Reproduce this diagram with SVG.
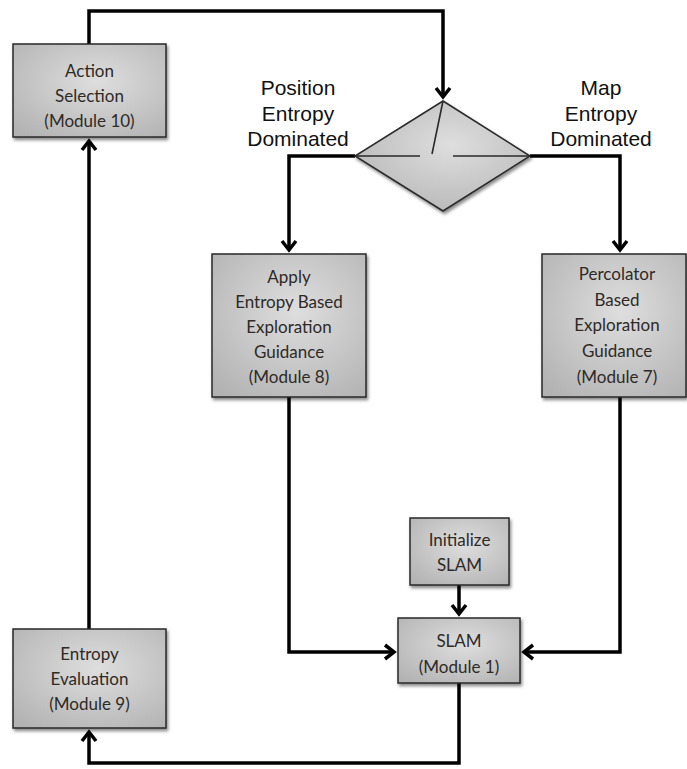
<svg xmlns="http://www.w3.org/2000/svg" width="687" height="769" viewBox="0 0 687 769">
<defs>
<radialGradient id="g" cx="55%" cy="40%" r="75%">
<stop offset="0" stop-color="#dedede"/>
<stop offset="1" stop-color="#b2b2b2"/>
</radialGradient>
<filter id="sh" x="-10%" y="-10%" width="130%" height="130%">
<feDropShadow dx="1.5" dy="2.5" stdDeviation="1.8" flood-color="#000" flood-opacity="0.45"/>
</filter>
<marker id="ar" markerUnits="userSpaceOnUse" markerWidth="24" markerHeight="24" viewBox="-14 -12 24 24" refX="0" refY="0" orient="auto" overflow="visible">
<path d="M-9,-7 L0,0 L-9,7" fill="none" stroke="#000" stroke-width="3.5" stroke-linejoin="miter" stroke-linecap="butt"/>
</marker>
</defs>
<style>
.box{fill:url(#g);stroke:#2a2a2a;stroke-width:1.5;filter:url(#sh)}
.t{font-family:Lato,"Open Sans","Liberation Sans",sans-serif;font-size:17px;fill:#2e2a26;text-anchor:middle}
.lbl{font-family:"Liberation Sans",Arial,sans-serif;font-size:21px;fill:#111;text-anchor:middle}
.c{fill:none;stroke:#000;stroke-width:3.5;stroke-linejoin:miter}
.dl{fill:none;stroke:#2a2a2a;stroke-width:1.6}
</style>
<g id="connectors">
<path class="c" d="M89,44 V11 H443 V97" marker-end="url(#ar)"/>
<path class="c" d="M355,156 H289 V250" marker-end="url(#ar)"/>
<path class="c" d="M530,156 H620 V250" marker-end="url(#ar)"/>
<path class="c" d="M289,397 V652 H394" marker-end="url(#ar)"/>
<path class="c" d="M620,397 V652 H524" marker-end="url(#ar)"/>
<path class="c" d="M459,585 V614" marker-end="url(#ar)"/>
<path class="c" d="M459,683 V763 H89 V732" marker-end="url(#ar)"/>
<path class="c" d="M89,629 V141" marker-end="url(#ar)"/>
</g>
<g id="action-selection">
<rect class="box" x="13" y="44" width="153" height="93"/>
<text class="t" x="89.5" y="77">Action</text>
<text class="t" x="89.5" y="102">Selection</text>
<text class="t" x="89.5" y="127">(Module 10)</text>
</g>
<g id="decision">
<polygon class="box" points="443,101 530,156 443,211 355,156"/>
<path class="dl" d="M355,156 H420 M453,156 H530 M443,101 L432,154"/>
</g>
<g id="label-position">
<text class="lbl" x="298" y="95">Position</text>
<text class="lbl" x="298" y="121">Entropy</text>
<text class="lbl" x="298" y="146">Dominated</text>
</g>
<g id="label-map">
<text class="lbl" x="601" y="95">Map</text>
<text class="lbl" x="601" y="121">Entropy</text>
<text class="lbl" x="601" y="146">Dominated</text>
</g>
<g id="module-8">
<rect class="box" x="212" y="254" width="154" height="143"/>
<text class="t" x="289" y="283">Apply</text>
<text class="t" x="289" y="308">Entropy Based</text>
<text class="t" x="289" y="333">Exploration</text>
<text class="t" x="289" y="358">Guidance</text>
<text class="t" x="289" y="383">(Module 8)</text>
</g>
<g id="module-7">
<rect class="box" x="542" y="254" width="144" height="143"/>
<text class="t" x="617" y="280">Percolator</text>
<text class="t" x="617" y="306">Based</text>
<text class="t" x="617" y="331">Exploration</text>
<text class="t" x="617" y="357">Guidance</text>
<text class="t" x="617" y="383">(Module 7)</text>
</g>
<g id="initialize-slam">
<rect class="box" x="410" y="518" width="99" height="67"/>
<text class="t" x="459.5" y="546">Initialize</text>
<text class="t" x="459.5" y="571">SLAM</text>
</g>
<g id="slam">
<rect class="box" x="398" y="618" width="122" height="65"/>
<text class="t" x="459" y="647">SLAM</text>
<text class="t" x="459" y="673">(Module 1)</text>
</g>
<g id="entropy-evaluation">
<rect class="box" x="13" y="629" width="153" height="99"/>
<text class="t" x="89.5" y="660">Entropy</text>
<text class="t" x="89.5" y="685">Evaluation</text>
<text class="t" x="89.5" y="710">(Module 9)</text>
</g>
</svg>
